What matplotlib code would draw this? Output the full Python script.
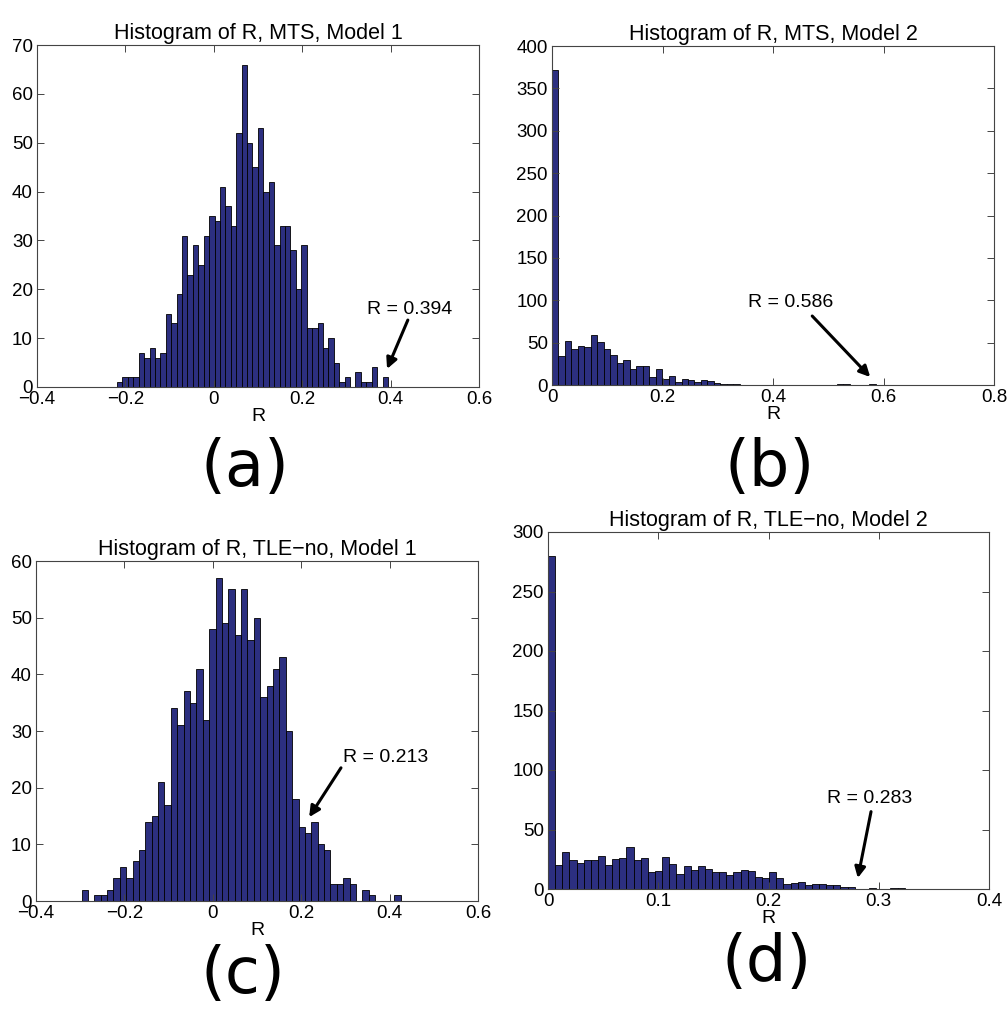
import numpy as np
import matplotlib.pyplot as plt
from matplotlib.ticker import FuncFormatter

# bin counts (50 bins each, min..max of R)
counts_a = [1, 2, 2, 2, 7, 6, 8, 6, 7, 15, 13, 19, 31, 23, 29, 25, 31, 35, 34, 41,
            37, 33, 52, 66, 50, 45, 53, 40, 42, 29, 33, 33, 28, 20, 29, 12, 12, 13, 8, 10,
            5, 1, 2, 0, 3, 1, 1, 4, 0, 2]
range_a = (-0.219, 0.394)

counts_b = [372, 34, 52, 43, 46, 45, 59, 51, 43, 35, 26, 30, 19, 22, 22, 9, 19, 7, 11, 3,
            7, 6, 4, 6, 5, 2, 1, 1, 1, 0, 0, 0, 0, 0, 0, 0, 0, 0, 0, 0,
            0, 0, 0, 0, 1, 1, 0, 0, 0, 1]
range_b = (0.0, 0.586)

counts_c = [2, 0, 1, 1, 2, 4, 6, 4, 7, 9, 14, 15, 21, 17, 34, 31, 37, 35, 41, 32,
            48, 57, 49, 55, 47, 55, 46, 50, 36, 38, 41, 43, 30, 18, 13, 12, 14, 10, 9, 3,
            3, 4, 3, 0, 2, 1, 0, 0, 0, 1]
range_c = (-0.297, 0.425)

counts_d = [280, 20, 31, 24, 22, 24, 24, 28, 20, 25, 26, 35, 24, 26, 14, 15, 27, 21, 13, 19,
            16, 19, 17, 14, 14, 12, 14, 16, 15, 10, 9, 14, 9, 4, 5, 6, 3, 4, 4, 3,
            3, 2, 2, 0, 0, 1, 0, 0, 1, 1]
range_d = (0.0, 0.3235)

titles = ["Histogram of R, MTS, Model 1", "Histogram of R, MTS, Model 2",
          "Histogram of R, TLE\u2212no, Model 1", "Histogram of R, TLE\u2212no, Model 2"]
panel_labels = ["(a)", "(b)", "(c)", "(d)"]
r_values = ["R = 0.394", "R = 0.586", "R = 0.213", "R = 0.283"]

xticks_a = [-0.4, -0.2, 0, 0.2, 0.4, 0.6]
yticks_a = list(range(0, 71, 10))
xticks_b = [0, 0.2, 0.4, 0.6, 0.8]
yticks_b = list(range(0, 401, 50))
xticks_c = [-0.4, -0.2, 0, 0.2, 0.4, 0.6]
yticks_c = list(range(0, 61, 10))
xticks_d = [0, 0.1, 0.2, 0.3, 0.4]
yticks_d = list(range(0, 301, 50))

bar_color = '#2c2f80'
W, H = 1008, 1009

fig = plt.figure(figsize=(W / 100, H / 100), dpi=100)
plt.rcParams['font.family'] = ['Liberation Sans', 'DejaVu Sans']


def fmt(v, pos):
    return ('%g' % v).replace('-', '\u2212')


def make_axes(left, right, top, bottom):
    # pixel box -> figure fraction
    return fig.add_axes([left / W, 1 - bottom / H, (right - left) / W, (bottom - top) / H])


def draw_hist(ax, counts, rng, xticks, yticks, title):
    edges = np.linspace(rng[0], rng[1], len(counts) + 1)
    ax.bar(edges[:-1], counts, width=np.diff(edges), align='edge',
           color=bar_color, edgecolor='black', linewidth=0.6)
    ax.set_xlim(xticks[0], xticks[-1])
    ax.set_ylim(yticks[0], yticks[-1])
    ax.set_xticks(xticks)
    ax.set_yticks(yticks)
    ax.xaxis.set_major_formatter(FuncFormatter(fmt))
    ax.yaxis.set_major_formatter(FuncFormatter(fmt))
    ax.tick_params(direction='in', top=True, right=True, length=5, width=0.7,
                   labelsize=13.5, pad=3, color='#444444')
    for s in ax.spines.values():
        s.set_color('#444444')
        s.set_linewidth(0.8)
    ax.set_title(title, fontsize=15.5, pad=4)
    ax.set_xlabel("R", fontsize=14, labelpad=0)


def mark(ax, text, text_xy, tail, tip):
    ax.text(text_xy[0], text_xy[1], text, fontsize=14, ha='center', va='center')
    ax.annotate('', xy=tip, xytext=tail,
                arrowprops=dict(arrowstyle='-|>', color='black', lw=2.2,
                                mutation_scale=16, shrinkA=0, shrinkB=0))


ax_a = make_axes(37, 479, 45, 387)
draw_hist(ax_a, counts_a, range_a, xticks_a, yticks_a, titles[0])
mark(ax_a, r_values[0], (0.444, 15.8), (0.439, 13.7), (0.392, 3.7))

ax_b = make_axes(552, 994, 46, 385)
draw_hist(ax_b, counts_b, range_b, xticks_b, yticks_b, titles[1])
mark(ax_b, r_values[1], (0.431, 97.9), (0.471, 81.4), (0.576, 9.4))

ax_c = make_axes(36, 478, 561, 901)
draw_hist(ax_c, counts_c, range_c, xticks_c, yticks_c, titles[2])
mark(ax_c, r_values[2], (0.390, 25.4), (0.290, 23.5), (0.218, 14.8))

ax_d = make_axes(548, 989, 532, 889)
draw_hist(ax_d, counts_d, range_d, xticks_d, yticks_d, titles[3])
mark(ax_d, r_values[3], (0.292, 76), (0.293, 65), (0.281, 9.2))

# big panel letters under each plot
label_pos = [(245, 468), (770, 468), (243, 975), (767, 963)]
for lab, (px, py) in zip(panel_labels, label_pos):
    fig.text(px / W, 1 - py / H, lab, fontsize=46, family='DejaVu Sans',
             ha='center', va='center')

fig.savefig('out.png', dpi=100)
